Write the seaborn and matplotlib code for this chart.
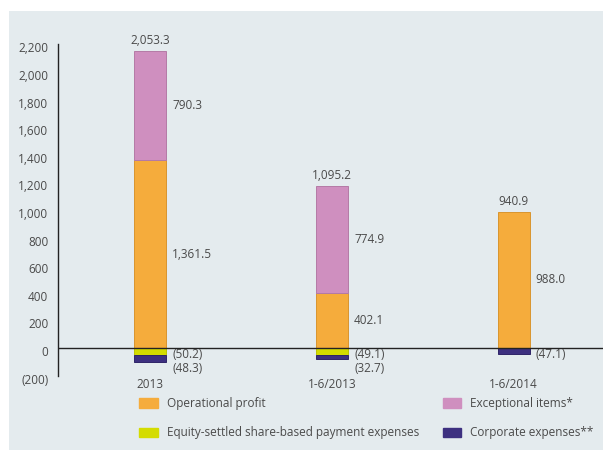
import matplotlib
matplotlib.use('Agg')
import matplotlib.pyplot as plt
import matplotlib.ticker as mticker
from matplotlib.patches import Patch
from matplotlib.transforms import ScaledTranslation
import pandas as pd
import seaborn as sns

# Datos
periods = ['2013', '1-6/2013', '1-6/2014']
operational = [1361.5, 402.1, 988.0]
exceptional = [790.3, 774.9, 0.0]
equity_settled = [-50.2, -49.1, 0.0]
corporate = [-48.3, -32.7, -47.1]
totals = [2053.3, 1095.2, 940.9]
yticks = list(range(-200, 2201, 200))

c_oper = '#f5ac3c'
c_exc = '#cf8fbf'
c_eq = '#d4dc00'
c_corp = '#3d3080'
bg = '#e4ebee'
txt = '#4a4a4a'

sns.set_style('white')
plt.rcParams['font.family'] = ['Open Sans', 'DejaVu Sans']

df = pd.DataFrame({'period': periods, 'oper': operational, 'exc': exceptional,
                   'eq': equity_settled, 'corp': corporate, 'total': totals})

fig = plt.figure(figsize=(6.03, 4.5), dpi=100)
fig.patch.set_facecolor('white')
# Panel de fondo
panel = plt.Rectangle((9 / 603, 0), 1 - 9 / 603, 1 - 11 / 450, transform=fig.transFigure,
                      facecolor=bg, edgecolor='none', zorder=-10)
fig.patches.append(panel)

ax = fig.add_axes([58 / 603, 1 - 375.6 / 450, 1 - 58 / 603, (375.6 - 44.4) / 450])
ax.set_facecolor('none')

w = 0.177
kw = dict(x='period', data=df, width=w, ax=ax, linewidth=0.7, saturation=1)
sns.barplot(y='oper', color=c_oper, edgecolor='#d9952e', **kw)
sns.barplot(y='exc', bottom=df['oper'], color=c_exc, edgecolor='#b47aa6', **kw)
sns.barplot(y='eq', color=c_eq, edgecolor='#bcc400', **kw)
sns.barplot(y='corp', bottom=df['eq'], color=c_corp, edgecolor='#2e2468', **kw)
# sin borde en segmentos vacíos
for p in ax.patches:
    if abs(p.get_height()) < 1e-9:
        p.set_visible(False)

ax.set_xlim(-0.508, 2.492)
ax.set_ylim(-200, 2200)
ax.set_yticks(yticks)
ax.yaxis.set_major_formatter(mticker.FuncFormatter(
    lambda v, p: f'({abs(v):,.0f})' if v < 0 else f'{v:,.0f}'))
ax.tick_params(axis='both', length=0, labelsize=8.5, labelcolor=txt)
ax.tick_params(axis='y', pad=7)
ax.tick_params(axis='x', pad=2)
for lab in ax.get_yticklabels():
    lab.set_transform(lab.get_transform() + ScaledTranslation(0, -3 / 100, fig.dpi_scale_trans))
ax.set_xlabel('')
ax.set_ylabel('')
for s in ['top', 'right', 'bottom']:
    ax.spines[s].set_visible(False)
ax.spines['left'].set_color('#222222')
ax.spines['left'].set_linewidth(1.0)
ax.axhline(0, color='#222222', lw=1.0, zorder=5)

fmt = lambda v: f'{v:,.1f}'
for i, r in df.iterrows():
    right = i + w / 2
    top = r['oper'] + r['exc']
    ax.annotate(fmt(r['total']), (i, top), xytext=(0, 4), textcoords='offset pixels',
                ha='center', va='bottom', fontsize=8.5, color=txt)
    if r['oper'] > 0:
        ax.annotate(fmt(r['oper']), (right, r['oper'] / 2), xytext=(6, 0),
                    textcoords='offset pixels', ha='left', va='center', fontsize=8.5, color=txt)
    if r['exc'] > 0:
        ax.annotate(fmt(r['exc']), (right, r['oper'] + r['exc'] / 2), xytext=(6, 0),
                    textcoords='offset pixels', ha='left', va='center', fontsize=8.5, color=txt)
    negs = [v for v in (r['eq'], r['corp']) if v < 0]
    for k, v in enumerate(negs):
        ax.annotate(f'({abs(v):.1f})', (right, 0), xytext=(6, -7 - 13.7 * k),
                    textcoords='offset pixels', ha='left', va='center', fontsize=8.5, color=txt)

handles = [Patch(color=c_oper, label='Operational profit'),
           Patch(color=c_eq, label='Equity-settled share-based payment expenses'),
           Patch(color=c_exc, label='Exceptional items*'),
           Patch(color=c_corp, label='Corporate expenses**')]
leg = fig.legend(handles=handles, loc='upper left', bbox_to_anchor=(133 / 603, 1 - 391 / 450),
                 ncol=2, frameon=False, fontsize=8.5, handlelength=1.6, handleheight=0.85,
                 handletextpad=0.75, columnspacing=2.0, labelspacing=1.4, borderpad=0)
for t in leg.get_texts():
    t.set_color(txt)

fig.savefig('out.png', dpi=100)
